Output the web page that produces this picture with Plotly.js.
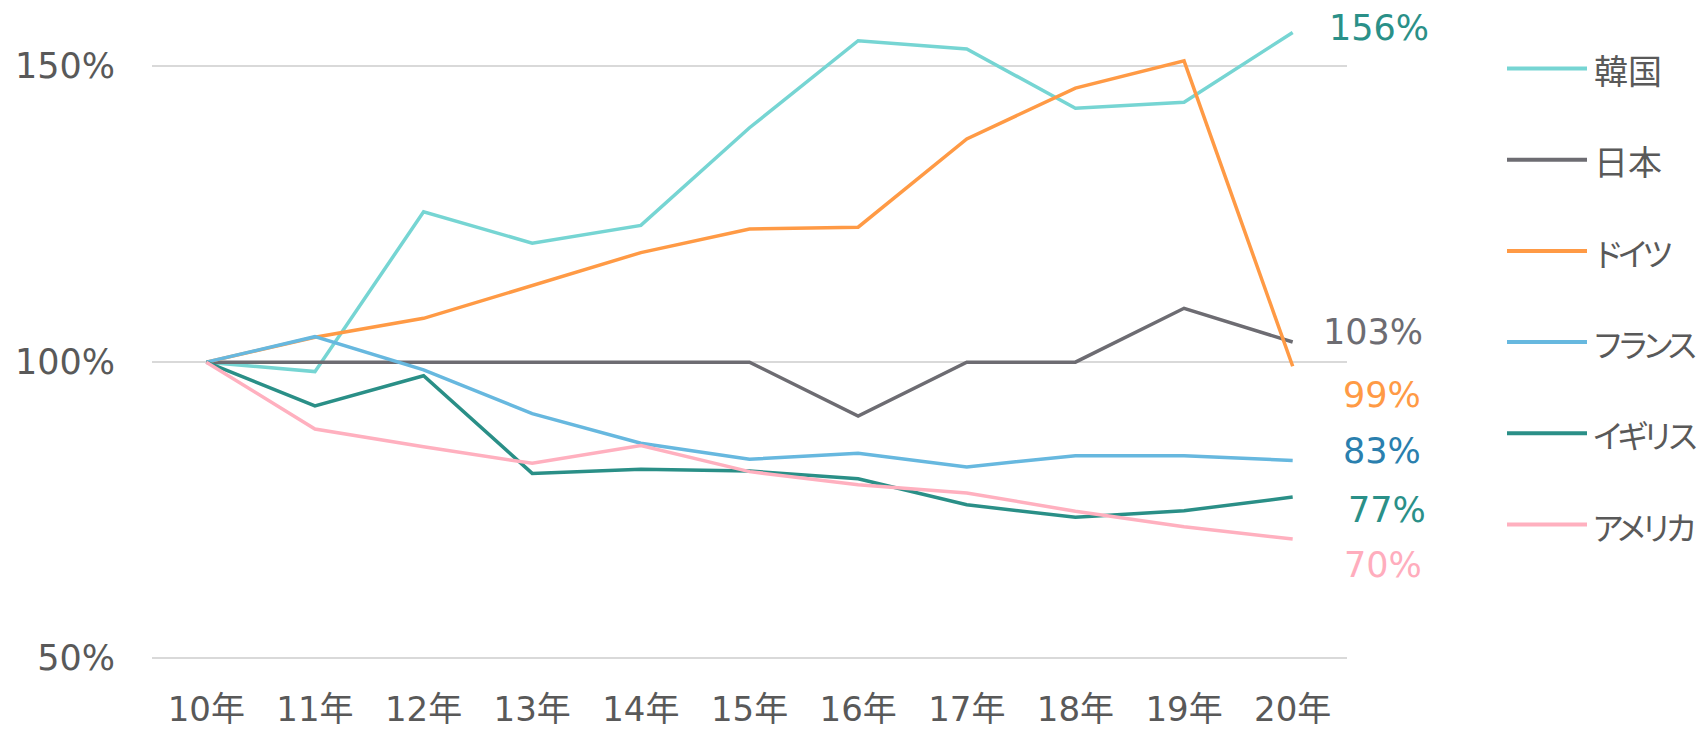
<!DOCTYPE html>
<html>
<head>
<meta charset="utf-8">
<script src="https://cdn.plot.ly/plotly-3.0.1.min.js"></script>
<style>
html,body{margin:0;padding:0;background:#fff;}
#chart{width:1701px;height:731px;}
</style>
</head>
<body>
<div id="chart"></div>
<script>
// Categories (years)
const years = ['10年','11年','12年','13年','14年','15年','16年','17年','18年','19年','20年'];

// Series names
const seriesNames = ['韓国','日本','ドイツ','フランス','イギリス','アメリカ'];

// Series values (%), index 2010 = 100
const korea   = [100, 98.4, 125.4, 120.1, 123.1, 139.6, 154.3, 152.9, 142.9, 143.9, 155.7];
const japan   = [100, 100, 100, 100, 100, 100, 90.9, 100, 100, 109.1, 103.4];
const germany = [100, 104.2, 107.4, 112.9, 118.5, 122.5, 122.8, 137.7, 146.3, 150.9, 99.3];
const france  = [100, 104.3, 98.7, 91.3, 86.3, 83.6, 84.6, 82.3, 84.2, 84.2, 83.4];
const uk      = [100, 92.6, 97.7, 81.2, 81.9, 81.6, 80.3, 75.9, 73.8, 74.9, 77.2];
const usa     = [100, 88.7, 85.7, 82.9, 85.9, 81.5, 79.3, 77.9, 74.8, 72.2, 70.1];

// Y-axis ticks
const yTicks = [50, 100, 150];

const seriesValues = [korea, japan, germany, france, uk, usa];
const lineColors  = ['#76D5D3', '#6D6C72', '#FF9A45', '#67B8DF', '#2A8F87', '#FFB0BF'];
const labelColors = ['#2A9088', '#6D6C72', '#FF9A45', '#2A7FAE', '#2A9088', '#FFADBD'];
// end-label offsets (px) relative to last point
const labelShift = [[86, 4], [80, 10], [89, -29], [89, 9], [94, -13], [90, -26]];

const ff = 'DejaVu Sans, Noto Sans CJK JP, sans-serif';
const textGray = '#595959';

const traces = seriesValues.map((vals, i) => ({
  type: 'scatter',
  mode: 'lines',
  x: years,
  y: vals,
  name: seriesNames[i],
  line: {color: lineColors[i], width: 3.5},
  hoverinfo: 'skip'
}));

// Plot area in pixels: left 152, right 1347, top 7, bottom 664
const L = 152, R = 1347, T = 7, B = 664;
const pw = R - L, ph = B - T;
const px2paperX = p => (p - L) / pw;
const px2paperY = p => (B - p) / ph;

const annotations = [];
const shapes = [];

// end labels
seriesValues.forEach((vals, i) => {
  const last = vals[vals.length - 1];
  annotations.push({
    xref: 'x', yref: 'y',
    x: years.length - 1, y: last,
    text: Math.round(last) + '%',
    showarrow: false,
    xanchor: 'center', yanchor: 'middle',
    xshift: labelShift[i][0], yshift: labelShift[i][1],
    font: {family: 'DejaVu Sans, sans-serif', size: 35, color: labelColors[i]}
  });
});

// custom legend
const kana = /[\u30A0-\u30FF]/;
seriesNames.forEach((name, i) => {
  const yPx = 68.5 + i * 91.2;
  shapes.push({
    type: 'line', xref: 'paper', yref: 'paper',
    x0: px2paperX(1507), x1: px2paperX(1587),
    y0: px2paperY(yPx), y1: px2paperY(yPx),
    line: {color: lineColors[i], width: 4}
  });
  const isKana = kana.test(name);
  annotations.push({
    xref: 'paper', yref: 'paper',
    x: px2paperX(isKana ? 1590 : 1592), y: px2paperY(yPx + 1),
    text: isKana ? '<span style="letter-spacing:-7px">' + name + '</span>' : name,
    showarrow: false,
    xanchor: 'left', yanchor: 'middle',
    font: {family: 'Noto Sans CJK JP, sans-serif', size: isKana ? 32 : 34, color: textGray}
  });
});

const layout = {
  width: 1701, height: 731,
  margin: {l: L, r: 1701 - R, t: T, b: 731 - B, pad: 0},
  paper_bgcolor: '#ffffff',
  plot_bgcolor: '#ffffff',
  showlegend: false,
  hovermode: false,
  xaxis: {
    type: 'category',
    range: [-0.5, 10.5],
    showgrid: false, zeroline: false, showline: false,
    ticks: '',
    tickfont: {family: ff, size: 34, color: textGray},
    ticklabelstandoff: 22,
    fixedrange: true
  },
  yaxis: {
    range: [49, 160],
    tickvals: yTicks,
    ticktext: yTicks.map(v => v + '%'),
    showgrid: true, gridcolor: '#D9D9D9', gridwidth: 2,
    zeroline: false, showline: false,
    ticks: '',
    tickfont: {family: ff, size: 35, color: textGray},
    ticklabelstandoff: 36,
    fixedrange: true
  },
  annotations: annotations,
  shapes: shapes
};

Plotly.newPlot('chart', traces, layout, {staticPlot: true, displayModeBar: false});
</script>
</body>
</html>
